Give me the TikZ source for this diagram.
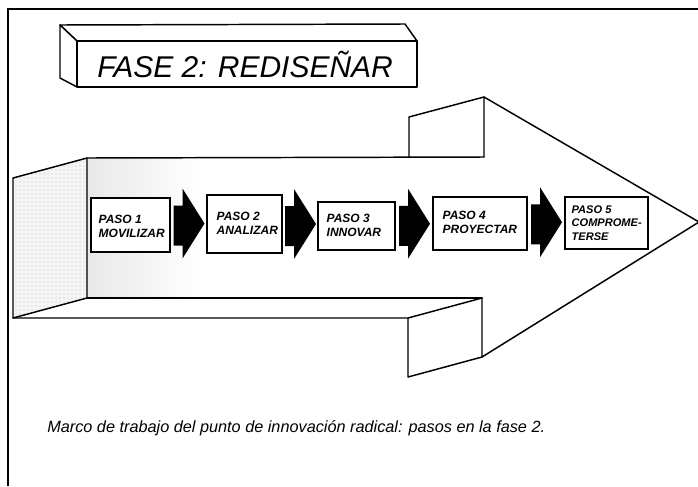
\documentclass[tikz,border=0pt]{standalone}
\usepackage{fontspec}
\setmainfont{Liberation Sans}
\usetikzlibrary{calc,patterns}
\tikzset{
  line/.style={line width=1.1pt, line join=round, line cap=round},
  stepbox/.style={draw, line width=0.9pt, fill=white, inner sep=0pt},
  steptext/.style={anchor=west, align=left, inner sep=0pt,
    font=\fontsize{9}{10.4}\selectfont\bfseries\itshape},
}
\newcommand\blockarr[2]{%
  \path ($(#1.east)!0.5!(#2.west)$) coordinate (m-#1);
  \fill[shift={(m-#1)}] (-15,-19) -- (-6,-19) -- (-6,-36) -- (16,-1)
     -- (-6,34) -- (-6,21) -- (-15,21) -- cycle;}
\begin{document}
\begin{tikzpicture}[x=0.75pt,y=-0.75pt]
\useasboundingbox (0,0) rectangle (698,486);
% stippled tail face and inner shading
\fill[black!4] (13,178) -- (87,158) -- (87,298) -- (13,318) -- cycle;
\fill[pattern=dots, pattern color=black!25] (13,178) -- (87,158) -- (87,298) -- (13,318) -- cycle;
\shade[left color=black!9, right color=white] (87,158) rectangle (200,298);
% big 3D arrow
\draw[line] (13,178) -- (87,158) -- (87,298) -- (13,318) -- cycle;
\draw[line] (87,158) -- (484,157);
\draw[line] (409,157) -- (409,117) -- (484,97) -- (484,157);
\draw[line] (484,97) -- (699,222) -- (482,357) -- (482,298);
\draw[line] (87,298) -- (482,298);
\draw[line] (13,318) -- (408,318) -- (482,298);
\draw[line] (408,318) -- (408,377) -- (482,357);
% step boxes
\node[stepbox, minimum width=59.25pt, minimum height=40.5pt] (b1) at (130.5,225) {};
\node[stepbox, minimum width=56.25pt, minimum height=43.5pt] (b2) at (244.5,224) {};
\node[stepbox, minimum width=57.75pt, minimum height=36pt] (b3) at (356.5,226) {};
\node[stepbox, minimum width=70.5pt, minimum height=39.75pt] (b4) at (480,223.5) {};
\node[stepbox, minimum width=62.25pt, minimum height=39pt] (b5) at (606.5,223) {};
\node[steptext] (t1) at ($(b1.west)+(8,1)$) {PASO 1\\MOVILIZAR};
\node[steptext] (t2) at ($(b2.west)+(10,-1)$) {PASO 2\\ANALIZAR};
\node[steptext] (t3) at ($(b3.west)+(9,-1)$) {PASO 3\\INNOVAR};
\node[steptext] (t4) at ($(b4.west)+(10,-1)$) {PASO 4\\PROYECTAR};
\node[steptext, font=\fontsize{8.3}{10}\selectfont\bfseries\itshape] (t5) at ($(b5.west)+(7,0)$) {PASO 5\\COMPROME-\\TERSE};
% block arrows
\blockarr{b1}{b2}
\blockarr{b2}{b3}
\blockarr{b3}{b4}
\blockarr{b4}{b5}
% title box
\draw[line, fill=white] (60,25) -- (405,24) -- (417,41) -- (77,41) -- cycle;
\draw[line, fill=white] (60,25) -- (77,41) -- (77,87) -- (60,78) -- cycle;
\draw[line, fill=white] (77,41) rectangle (417,87);
\node[anchor=base west, inner sep=0pt, font=\fontsize{22.5}{26}\selectfont\itshape] (title) at (97,77) {FASE 2: REDISEÑAR};
% caption
\node[anchor=base west, inner sep=0pt, font=\fontsize{12.2}{15}\selectfont\itshape] (cap) at (47,432)
  {Marco de trabajo del punto de innovación radical: pasos en la fase 2.};
% frame
\draw[line width=1pt] (698,9) -- (8,9) -- (8,486);
\end{tikzpicture}
\end{document}
